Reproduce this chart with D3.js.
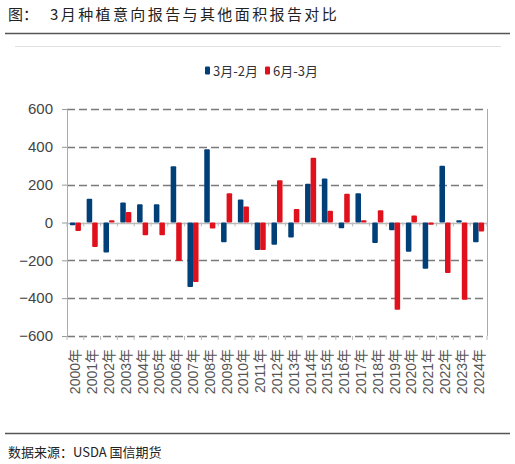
<!DOCTYPE html>
<html>
<head>
<meta charset="utf-8">
<script src="https://cdn.jsdelivr.net/npm/d3@7"></script>
<style>
  body { margin: 0; background: #fff; }
  text { font-family: "Liberation Sans Narrow", "Noto Sans CJK SC", sans-serif; }
  .cjk { font-family: "Noto Sans CJK SC", sans-serif; }
</style>
</head>
<body>
<div id="chart"></div>
<script>
// data
const years = ['2000年','2001年','2002年','2003年','2004年','2005年','2006年','2007年','2008年','2009年',
               '2010年','2011年','2012年','2013年','2014年','2015年','2016年','2017年','2018年','2019年',
               '2020年','2021年','2022年','2023年','2024年'];
const marFeb = [-15, 125, -159, 106, 97, 97, 297, -341, 387, -104,
                122, -145, -117, -79, 205, 233, -30, 155, -108, -41,
                -154, -244, 300, 12, -104];
const junMar = [-45, -129, 12, 56, -67, -67, -203, -314, -32, 155,
                85, -145, 224, 71, 342, 62, 152, 12, 65, -461,
                37, -12, -267, -408, -48];
const seriesNames = ['3月-2月', '6月-3月'];
const yTicks = [-600, -400, -200, 0, 200, 400, 600];

const colors = ['#003f78', '#e0111c'];
const W = 515, H = 464;
const margin = { top: 109, right: 28, bottom: 128, left: 67 };
const width = W - margin.left - margin.right;
const height = H - margin.top - margin.bottom;

const svg = d3.select('#chart').append('svg')
    .attr('width', W)
    .attr('height', H);

// title and frame lines
svg.append('text')
    .attr('class', 'cjk')
    .attr('x', 8).attr('y', 20)
    .attr('font-size', 15)
    .attr('fill', '#222')
    .text('图：');
svg.append('text')
    .attr('class', 'cjk')
    .attr('x', 50).attr('y', 20)
    .attr('font-size', 15)
    .attr('letter-spacing', 2.4)
    .attr('fill', '#222')
    .text('3月种植意向报告与其他面积报告对比');
svg.append('line')
    .attr('x1', 5).attr('x2', 510).attr('y1', 33.5).attr('y2', 33.5)
    .attr('stroke', '#555').attr('stroke-width', 1.5);
svg.append('line')
    .attr('x1', 15).attr('x2', 501).attr('y1', 46.5).attr('y2', 46.5)
    .attr('stroke', '#e2e2e2').attr('stroke-width', 1);
svg.append('line')
    .attr('x1', 5).attr('x2', 510).attr('y1', 433.5).attr('y2', 433.5)
    .attr('stroke', '#555').attr('stroke-width', 1.5);
svg.append('text')
    .attr('class', 'cjk')
    .attr('x', 8).attr('y', 457)
    .attr('font-size', 13)
    .attr('fill', '#222')
    .text('数据来源：USDA 国信期货');

// legend
const legend = svg.append('g').attr('transform', 'translate(205, 0)');
const legendX = [0, 60];
seriesNames.forEach((name, i) => {
    legend.append('rect')
        .attr('x', legendX[i]).attr('y', 66.5)
        .attr('width', 5).attr('height', 8).attr('rx', 1)
        .attr('fill', colors[i]);
    legend.append('text')
        .attr('x', legendX[i] + 8).attr('y', 75.5)
        .attr('font-size', 13)
        .attr('fill', '#333')
        .text(name);
});

const g = svg.append('g')
    .attr('transform', `translate(${margin.left}, ${margin.top})`);

// scales
const x = d3.scaleBand()
    .domain(years)
    .range([0, width])
    .paddingInner(0.34)
    .paddingOuter(0.17);
const xs = d3.scaleBand()
    .domain([0, 1])
    .range([0, x.bandwidth()]);
const y = d3.scaleLinear()
    .domain([-600, 600])
    .range([height, 0]);

// dashed grid lines
g.selectAll('.grid')
    .data(yTicks)
    .enter().append('line')
    .attr('class', 'grid')
    .attr('x1', 0).attr('x2', width)
    .attr('y1', d => Math.round(y(d)) + 0.5)
    .attr('y2', d => Math.round(y(d)) + 0.5)
    .attr('stroke', d => d === 0 ? '#bbb' : '#7a7a7a')
    .attr('stroke-width', 1.3)
    .attr('stroke-dasharray', d => d === 0 ? null : '8,4');

// right border
g.append('line')
    .attr('x1', width + 0.5).attr('x2', width + 0.5)
    .attr('y1', 0).attr('y2', height)
    .attr('stroke', '#aaa');

// y axis
const yAxis = g.append('g')
    .call(d3.axisLeft(y).tickValues(yTicks).tickSize(5).tickPadding(9));
yAxis.select('.domain').attr('stroke', '#aaa');
yAxis.selectAll('.tick line').attr('stroke', '#999');
yAxis.selectAll('.tick text')
    .attr('font-size', 15)
    .attr('fill', '#444')
    .style('font-family', '"Liberation Sans Narrow", sans-serif')
    .text(d => d < 0 ? '\u2212' + Math.abs(d) : d);

// small ticks along the zero line and the bottom
const bounds = d3.range(years.length + 1).map(i => i * width / years.length);
[y(0), height].forEach(yy => {
    g.selectAll(null)
        .data(bounds)
        .enter().append('line')
        .attr('x1', d => d).attr('x2', d => d)
        .attr('y1', yy).attr('y2', yy + 4)
        .attr('stroke', '#bbb');
});

// bars
const series = [marFeb, junMar];
series.forEach((vals, si) => {
    g.selectAll(`.bar${si}`)
        .data(vals)
        .enter().append('rect')
        .attr('class', `bar${si}`)
        .attr('x', (d, i) => x(years[i]) + xs(si))
        .attr('y', d => y(Math.max(0, d)))
        .attr('width', xs.bandwidth())
        .attr('height', d => Math.abs(y(d) - y(0)))
        .attr('rx', 1)
        .attr('fill', colors[si]);
});

// x labels, rotated
g.selectAll('.xlab')
    .data(years)
    .enter().append('text')
    .attr('class', 'xlab')
    .attr('transform', d => `translate(${x(d) + x.bandwidth() / 2 + 5}, ${height + 13}) rotate(-90)`)
    .attr('text-anchor', 'end')
    .attr('font-size', 14)
    .attr('fill', '#555')
    .style('font-family', '"Liberation Sans", "Noto Sans CJK SC", sans-serif')
    .text(d => d);
</script>
</body>
</html>
